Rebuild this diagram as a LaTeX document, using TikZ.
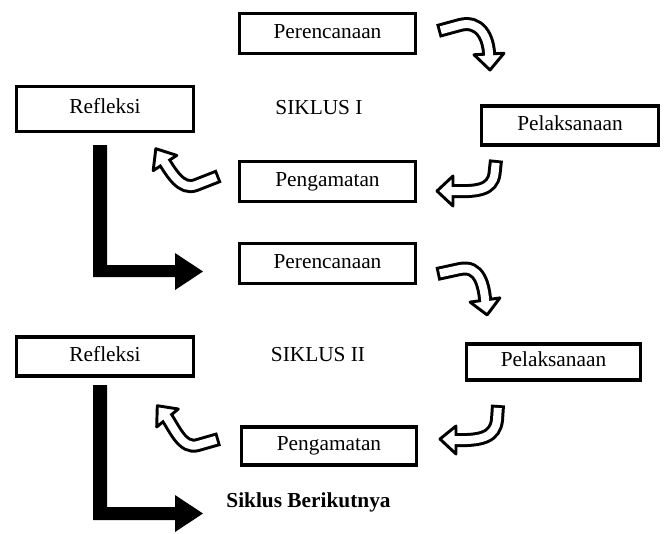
\documentclass[tikz,border=0pt]{standalone}
\usepackage{fontspec}
\setmainfont{Liberation Serif}
\newcommand\hollowarrow[2]{%
  \draw[shaft] #1;
  \filldraw[ahead] #2;
  \draw[shaftin] #1;}
\begin{document}
\begin{tikzpicture}[x=0.75pt,y=-0.75pt,
  box/.style={draw=black, line width=2.3pt, inner sep=0pt,
    text height=10.6pt, text depth=3.5pt, font=\fontsize{16}{19}\selectfont},
  lbl/.style={inner sep=0pt, text height=10.6pt, text depth=3.5pt,
    font=\fontsize{16}{19}\selectfont},
  shaft/.style={line width=10.5pt, black},
  shaftin/.style={line width=6pt, white, shorten <=2.2pt},
  ahead/.style={fill=white, draw=black, line width=2.2pt, line join=round},
  bigarrow/.style={fill=black}]
\useasboundingbox (0,0) rectangle (665,533);

% boxes
\node[box, minimum width=132pt, minimum height=30pt] (per1) at (327.5,33.5) {Perencanaan};
\node[box, minimum width=132.75pt, minimum height=33.75pt] (ref1) at (105,109) {Refleksi};
\node[lbl] (sik1) at (319,110) {SIKLUS I};
\node[box, minimum width=132.75pt, minimum height=29.25pt] (pel1) at (570,125.5) {Pelaksanaan};
\node[box, minimum width=132pt, minimum height=30pt] (pen1) at (327.5,181.5) {Pengamatan};
\node[box, minimum width=132pt, minimum height=30pt] (per2) at (327.5,263.5) {Perencanaan};
\node[box, minimum width=130.5pt, minimum height=27pt] (pel2) at (553.5,362) {Pelaksanaan};
\node[box, minimum width=132.75pt, minimum height=29.25pt] (ref2) at (105,356.5) {Refleksi};
\node[lbl] (sik2) at (318,357) {SIKLUS II};
\node[box, minimum width=131.25pt, minimum height=28.5pt] (pen2) at (329,446) {Pengamatan};
\node[lbl, font=\fontsize{16}{19}\selectfont\bfseries] (next) at (308.5,503) {Siklus Berikutnya};

% hollow curved arrows
\hollowarrow{(438,31) -- (460,25) .. controls (479,20) and (489,36) .. (489.2,57)}
  {(474,54.75) -- (504,53.25) -- (490,70) -- cycle}
\hollowarrow{(496,160) -- (494.5,174) .. controls (492,190) and (478,192) .. (450,191)}
  {(453,176) -- (453,206) -- (437,191) -- cycle}
\hollowarrow{(219,176) -- (196,185) .. controls (181,191) and (171,172) .. (163.4,160.5)}
  {(176.8,155.4) -- (153.2,170.6) -- (155.8,148.7) -- cycle}
\hollowarrow{(437,274) -- (460,269) .. controls (479,265) and (484,284) .. (485.4,303)}
  {(470.1,302.1) -- (499.9,297.9) -- (487.1,314.9) -- cycle}
\hollowarrow{(498,405) -- (497,420) .. controls (495,437) and (482,441) .. (453,440)}
  {(456,426) -- (456,454) -- (440,439) -- cycle}
\hollowarrow{(219,439) -- (198,445) .. controls (182,450) and (174,427) .. (165.6,415.7)}
  {(178.3,409) -- (156.7,427) -- (157.3,405.7) -- cycle}

% big L arrows
\fill[bigarrow] (93,145) -- (107,145) -- (107,265) -- (175,265) -- (175,253)
  -- (203,271.5) -- (175,290) -- (175,277) -- (93,277) -- cycle;
\fill[bigarrow] (93,385) -- (107,385) -- (107,507) -- (175,507) -- (175,495)
  -- (203,513.5) -- (175,532) -- (175,520) -- (93,520) -- cycle;
\end{tikzpicture}
\end{document}
